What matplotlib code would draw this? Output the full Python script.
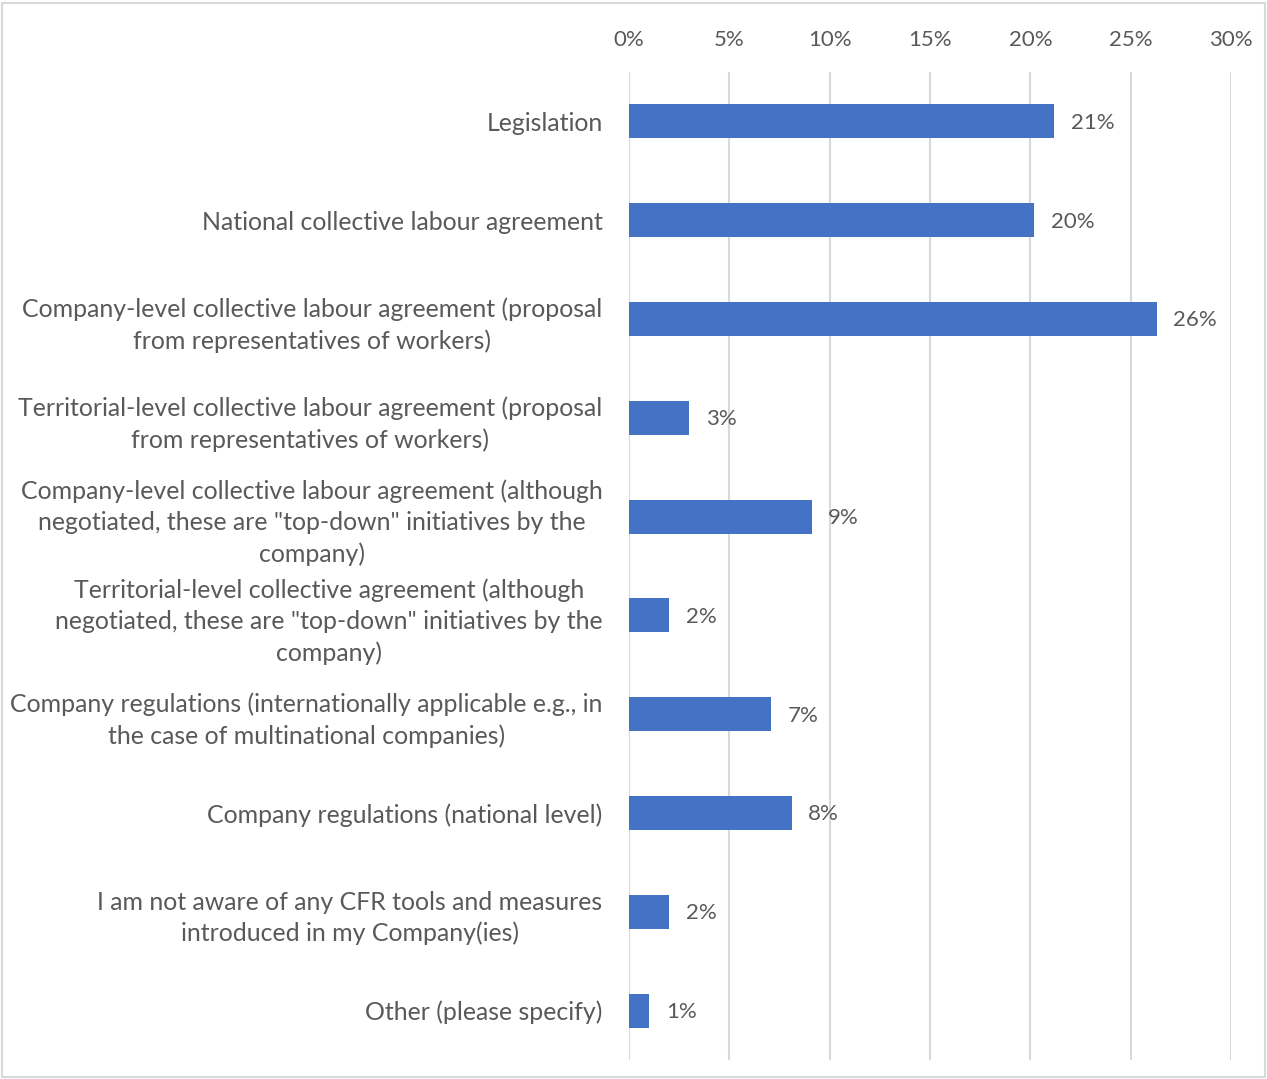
import matplotlib.pyplot as plt
from matplotlib.patches import Rectangle
from matplotlib.ticker import PercentFormatter

plt.rcParams['font.family'] = ['Lato', 'DejaVu Sans']

categories = [
    'Legislation',
    'National collective labour agreement',
    'Company-level collective labour agreement (proposal\nfrom representatives of workers)',
    'Territorial-level collective labour agreement (proposal\nfrom representatives of workers)',
    'Company-level collective labour agreement (although\nnegotiated, these are "top-down" initiatives by the\ncompany)',
    'Territorial-level collective agreement (although\nnegotiated, these are "top-down" initiatives by the\ncompany)',
    'Company regulations (internationally applicable e.g., in\nthe case of multinational companies)',
    'Company regulations (national level)',
    'I am not aware of any CFR tools and measures\nintroduced in my Company(ies)',
    'Other (please specify)',
]
shares = [0.212, 0.202, 0.263, 0.030, 0.091, 0.020, 0.071, 0.081, 0.020, 0.010]
xticks = [0, 0.05, 0.10, 0.15, 0.20, 0.25, 0.30]

text_col = '#595959'
grid_col = '#D9D9D9'
bar_col = '#4472C4'

W, H = 1267, 1079
fig = plt.figure(figsize=(W / 100, H / 100), dpi=100)
ax = fig.add_axes([629 / W, 1 - 1060 / H, (1231 - 629) / W, (1060 - 72) / H])

pos = list(range(len(categories)))
ax.barh(pos, shares, height=0.345, color=bar_col, zorder=3)
ax.set_ylim(len(categories) - 0.5, -0.5)
ax.set_xlim(0, 0.30)

ax.set_xticks(xticks)
ax.xaxis.set_major_formatter(PercentFormatter(1.0, decimals=0))
ax.xaxis.tick_top()
ax.tick_params(axis='x', length=0, pad=16, labelsize=16, labelcolor=text_col)
ax.set_yticks(pos)
ax.set_yticklabels(categories, multialignment='center', linespacing=1.42)
ax.tick_params(axis='y', length=0, pad=19, labelsize=17.9, labelcolor=text_col)

ax.grid(axis='x', color=grid_col, linewidth=1.5, zorder=0)
for s in ax.spines.values():
    s.set_visible(False)

for p, v in zip(pos, shares):
    ax.annotate(f'{v:.0%}', (v, p), xytext=(12, -1), textcoords='offset points',
                va='center', ha='left', fontsize=16, color=text_col)

# chart border
fig.patches.append(Rectangle((2 / W, 2 / H), 1 - 4 / W, 1 - 5 / H, transform=fig.transFigure,
                             fill=False, edgecolor=grid_col, linewidth=1.5))

fig.savefig('out.png', dpi=100)
